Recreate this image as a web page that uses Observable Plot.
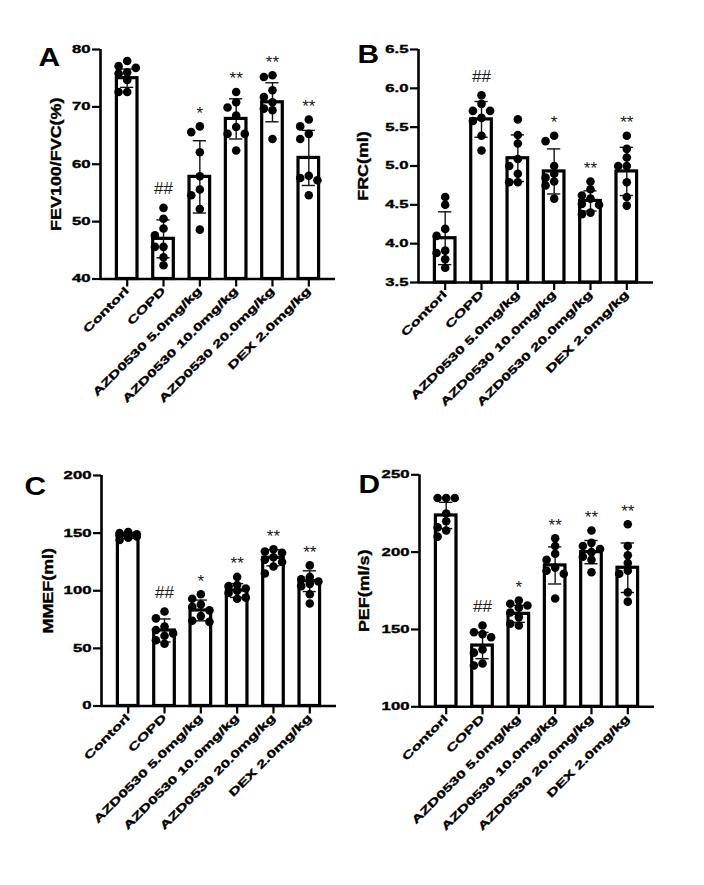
<!DOCTYPE html>
<html><head><meta charset="utf-8">
<script src="https://cdn.jsdelivr.net/npm/d3@7"></script>
<script src="https://cdn.jsdelivr.net/npm/@observablehq/plot@0.6"></script>
<style>
body{margin:0;background:#fff;}
#root{position:relative;width:704px;height:885px;overflow:hidden;}
.panel{position:absolute;}
</style>
</head><body><div id="root"></div>
<script>
const groups = ["Contorl","COPD","AZD0530 5.0mg/kg","AZD0530 10.0mg/kg","AZD0530 20.0mg/kg","DEX 2.0mg/kg"];

// Panel A: FEV100/FVC(%)
const aMeans = [75.0, 47.0, 57.8, 67.9, 70.8, 61.1];
const aSds = [1.6, 3.3, 6.3, 3.5, 3.4, 4.8];
const aPoints = [
  [78.0, 77.1, 76.8, 76.0, 75.8, 74.7, 72.6, 72.6],
  [52.4, 50.5, 48.8, 47.6, 45.6, 45.6, 43.8, 42.4],
  [66.6, 65.6, 62.1, 57.9, 55.6, 54.6, 52.2, 48.6],
  [72.6, 70.8, 69.9, 68.5, 66.5, 65.3, 65.3, 62.4],
  [75.5, 75.2, 72.9, 71.7, 70.8, 69.7, 69.4, 64.4],
  [67.8, 66.6, 65.3, 64.4, 58.0, 57.6, 57.2, 54.6]
];
const aSig = ["", "##", "*", "**", "**", "**"];
const aTicks = [40, 50, 60, 70, 80];

// Panel B: FRC(ml)
const bMeans = [4.07, 5.60, 5.10, 4.93, 4.55, 4.93];
const bSds = [0.34, 0.23, 0.30, 0.29, 0.13, 0.31];
const bPoints = [
  [4.60, 4.50, 4.19, 4.10, 3.91, 3.88, 3.80, 3.69],
  [5.91, 5.80, 5.71, 5.71, 5.62, 5.58, 5.39, 5.20],
  [5.60, 5.40, 5.29, 5.09, 5.00, 4.90, 4.79, 4.79],
  [5.39, 5.32, 5.00, 4.90, 4.85, 4.80, 4.75, 4.58],
  [4.80, 4.70, 4.62, 4.58, 4.51, 4.50, 4.40, 4.38],
  [5.39, 5.22, 5.11, 5.00, 5.00, 4.79, 4.60, 4.49]
];
const bSig = ["", "##", "", "*", "**", "**"];
const bTicks = [3.5, 4.0, 4.5, 5.0, 5.5, 6.0, 6.5];

// Panel C: MMEF(ml)
const cMeans = [147.9, 65.5, 82.9, 100.2, 128.6, 108.3];
const cSds = [2.5, 10, 9, 6, 7, 9];
const cPoints = [
  [151, 150, 149, 148, 148, 147, 146, 144],
  [82, 76, 69, 66, 63, 61, 57, 54],
  [97, 93, 88, 86, 83, 78, 74, 73],
  [112, 105, 104, 102, 100, 98, 94, 93],
  [136, 134, 133, 129, 127, 125, 121, 115],
  [122, 112, 110, 108, 106, 104, 97, 89]
];
const cSig = ["", "##", "*", "**", "**", "**"];
const cTicks = [0, 50, 100, 150, 200];

// Panel D: PEF(ml/s)
const dMeans = [223.7, 139.6, 160.1, 191.4, 200.0, 189.9];
const dSds = [8.5, 8.5, 5.5, 12, 7.5, 16];
const dPoints = [
  [235, 235, 235, 225, 220, 216, 214, 210],
  [152.6, 148.2, 147, 145, 137, 135, 128, 126.7],
  [168.7, 166.6, 165.5, 164, 161, 158, 153.7, 152.6],
  [209, 204, 199, 195, 190, 188, 186, 170],
  [214, 206, 204, 202, 200, 197, 195, 187],
  [218, 204, 198, 193, 188, 186, 174, 168]
];
const dSig = ["", "##", "*", "**", "**", "**"];
const dTicks = [100, 150, 200, 250];

const FONT = "'Liberation Sans', Arial, Helvetica, sans-serif";

// widen glyphs along their baseline (the reference uses a wide, heavy bold face)
function stretchTexts(svg, title) {
  svg.querySelectorAll("text").forEach(t => {
    const s = t.textContent;
    let k = 1.55, heavy = true;
    if (/^[A-D]$/.test(s)) { k = 1.15; heavy = false; }
    else if (s === title) k = 1.28;
    else if (/^[*#]+$/.test(s)) { k = 1; heavy = false; }
    if (heavy) { t.setAttribute("stroke", "#000"); t.setAttribute("stroke-width", "0.35"); }
    if (k === 1) return;
    const tr = t.getAttribute("transform") || "";
    t.setAttribute("transform", `${tr} scale(${k},1)`);
  });
}

function build(cfg) {
  const W = 352, H = 430, ML = 100, MR = 17;
  const mt = cfg.mt, mb = cfg.mb;
  const xDom = [-0.735, 5.735];
  const fw = W - ML - MR, fh = H - mt - mb;
  const pxX = fw / (xDom[1] - xDom[0]);
  const pxY = fh / (cfg.domain[1] - cfg.domain[0]);
  const barHalf = 10.3 / pxX, capHalf = 6.6 / pxX, dotStep = 8.6 / pxX;
  const idx = d3.range(groups.length);
  const bars = idx.map(i => ({i, m: cfg.means[i], sd: cfg.sds[i]}));
  const dots = [];
  cfg.points.forEach((vals, i) => {
    const placed = [];
    vals.forEach(v => {
      const gap = s => {
        const same = placed.filter(p => p.s === s);
        return same.length ? d3.min(same, p => Math.abs(p.v - v) * pxY) : Infinity;
      };
      let slot = [0, -1, 1].find(s => gap(s) >= 7);
      if (slot === undefined) slot = d3.greatest([0, -1, 1], s => gap(s));
      placed.push({s: slot, v});
      dots.push({x: i + slot * dotStep, y: v});
    });
  });
  const caps = bars.flatMap(b => [{i: b.i, y: b.m + b.sd}, {i: b.i, y: b.m - b.sd}]);
  const sigs = idx.filter(i => cfg.sig[i]).map(i => ({
    i, t: cfg.sig[i],
    y: Math.max(d3.max(cfg.points[i]), cfg.means[i] + cfg.sds[i])
  }));
  const svg = Plot.plot({
    width: W, height: H,
    marginLeft: ML, marginRight: MR, marginTop: mt, marginBottom: mb,
    style: {fontFamily: FONT, fontSize: "10.8px", fontWeight: "bold", color: "#000", background: "transparent", overflow: "visible"},
    x: {type: "linear", domain: xDom},
    y: {domain: cfg.domain},
    marks: [
      Plot.rectY(bars, {x1: d => d.i - barHalf, x2: d => d.i + barHalf, y1: cfg.domain[0], y2: "m", fill: "white", stroke: "black", strokeWidth: 3.2}),
      Plot.ruleX(bars, {x: "i", y1: d => d.m - d.sd, y2: d => d.m + d.sd, stroke: "#111", strokeWidth: 1.4}),
      Plot.ruleY(caps, {y: "y", x1: d => d.i - capHalf, x2: d => d.i + capHalf, stroke: "#111", strokeWidth: 1.4}),
      Plot.dot(dots, {x: "x", y: "y", r: 4.3, fill: "black", stroke: "none"}),
      Plot.ruleY([cfg.domain[0]], {stroke: "black", strokeWidth: 2.6}),
      Plot.ruleX([xDom[0]], {stroke: "black", strokeWidth: 2.6}),
      Plot.axisY({ticks: cfg.ticks, tickFormat: cfg.fmt, tickSize: 8, tickPadding: 2, strokeWidth: 2.2, label: null}),
      Plot.axisX({ticks: idx, tickFormat: i => groups[i], tickRotate: -45, tickSize: 8, tickPadding: 2, strokeWidth: 2.2, label: null}),
      Plot.text([cfg.title], {frameAnchor: "left", text: d => d, rotate: -90, dx: cfg.titleDx, fontSize: 14, textAnchor: "middle"}),
      Plot.text([cfg.letter], {frameAnchor: "top-left", text: d => d, dx: cfg.letterDx, dy: cfg.letterDy, fontSize: 26, fontWeight: 900, textAnchor: "start", lineAnchor: "top"}),
      Plot.text(sigs.filter(d => d.t[0] === "#"), {x: "i", y: "y", text: "t", dy: -19, fontSize: 17, fontWeight: "normal", fill: "#1a1a1a"}),
      Plot.text(sigs.filter(d => d.t[0] === "*"), {x: "i", y: "y", text: "t", dy: -13, fontSize: 17, fontWeight: "normal", fill: "#1a1a1a"})
    ]
  });
  stretchTexts(svg, cfg.title);
  const wrap = document.createElement("div");
  wrap.className = "panel";
  wrap.style.left = cfg.left + "px";
  wrap.style.top = cfg.top + "px";
  wrap.appendChild(svg);
  document.getElementById("root").appendChild(wrap);
}

build({letter: "A", title: "FEV100/FVC(%)", domain: [40, 80], ticks: aTicks, fmt: d => String(d),
  means: aMeans, sds: aSds, points: aPoints, sig: aSig,
  left: 0, top: 0, mt: 49, mb: 151.5, titleDx: -44, letterDx: -62, letterDy: -2});
build({letter: "B", title: "FRC(ml)", domain: [3.5, 6.5], ticks: bTicks, fmt: d => d.toFixed(1),
  means: bMeans, sds: bSds, points: bPoints, sig: bSig,
  left: 318, top: 0, mt: 49, mb: 148, titleDx: -55, letterDx: -61, letterDy: -5});
build({letter: "C", title: "MMEF(ml)", domain: [0, 200], ticks: cTicks, fmt: d => String(d),
  means: cMeans, sds: cSds, points: cPoints, sig: cSig,
  left: 1, top: 426, mt: 49, mb: 150.5, titleDx: -53, letterDx: -77, letterDy: 1});
build({letter: "D", title: "PEF(ml/s)", domain: [100, 250], ticks: dTicks, fmt: d => String(d),
  means: dMeans, sds: dSds, points: dPoints, sig: dSig,
  left: 319, top: 426, mt: 48.3, mb: 149.7, titleDx: -55, letterDx: -61, letterDy: 0});
</script>
</body></html>
